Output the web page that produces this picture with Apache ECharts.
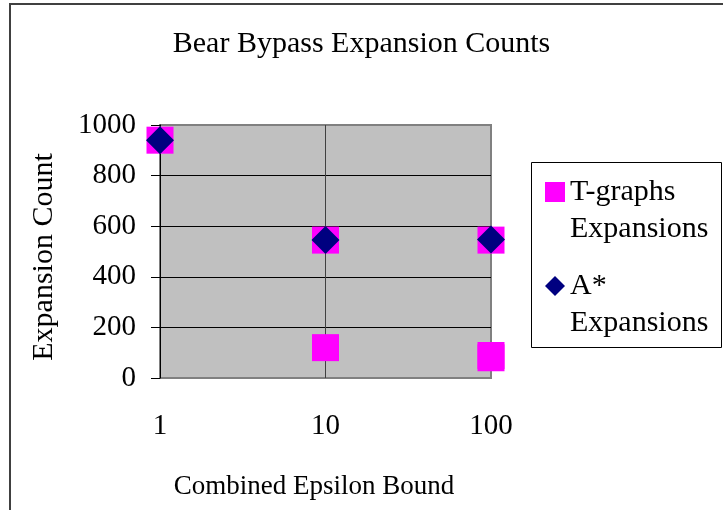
<!DOCTYPE html>
<html><head><meta charset="utf-8">
<script src="https://cdn.jsdelivr.net/npm/echarts@6/dist/echarts.min.js"></script>
<style>html,body{margin:0;padding:0;background:#fff}#c{width:723px;height:510px}</style>
</head><body><div id="c"></div>
<script>
const titleText = 'Bear Bypass Expansion Counts';
const xAxisName = 'Combined Epsilon Bound';
const yAxisName = 'Expansion Count';
const seriesNames = ['T-graphs Expansions', 'A* Expansions'];
const tgraphsEps = [1, 10, 10, 100, 100, 100];
const tgraphsCounts = [940, 545, 120, 545, 89, 80];
const astarEps = [1, 10, 100];
const astarCounts = [940, 545, 547];
const xTickLabels = {1: '1', 10: '10', 100: '100'};
const yTickValues = [0, 200, 400, 600, 800, 1000];

const FONT = 'Liberation Serif, Times New Roman, serif';
const chart = echarts.init(document.getElementById('c'), null, {renderer: 'canvas'});

function legendText(name) { return ' \n' + name.split(' ').join('\n'); }

const option = {
  backgroundColor: '#ffffff',
  animation: false,
  title: {
    text: titleText, left: 'center', top: 29, padding: 0,
    textStyle: {fontFamily: FONT, fontSize: 30, fontWeight: 'normal', color: '#000'}
  },
  grid: {
    left: 160, top: 125, right: 232, bottom: 132,
    show: true, backgroundColor: '#c0c0c0', borderColor: '#808080', borderWidth: 2
  },
  xAxis: {
    type: 'log', logBase: 10, min: 1, max: 100,
    name: xAxisName, nameLocation: 'middle', nameGap: 95,
    nameTextStyle: {fontFamily: FONT, fontSize: 27, color: '#000', padding: [0, 23, 0, 0]},
    axisLine: {show: false},
    axisTick: {show: false},
    axisLabel: {fontFamily: FONT, fontSize: 29, color: '#000', margin: 34,
      formatter: v => xTickLabels[Math.round(v)] ?? String(v)},
    splitLine: {show: true, showMinLine: false, showMaxLine: false, lineStyle: {color: '#404040', width: 1}}
  },
  yAxis: {
    type: 'value', min: yTickValues[0], max: yTickValues[yTickValues.length - 1], interval: yTickValues[1] - yTickValues[0],
    name: yAxisName, nameLocation: 'middle', nameGap: 101, nameRotate: 90,
    nameTextStyle: {fontFamily: FONT, fontSize: 30, color: '#000', padding: [0, 11, 0, 0]},
    axisLine: {show: true, lineStyle: {color: '#000', width: 1}},
    axisTick: {show: true, inside: false, length: 9, lineStyle: {color: '#000'}},
    axisLabel: {fontFamily: FONT, fontSize: 29, color: '#000', margin: 24,
      formatter: v => String(v)},
    splitLine: {show: true, showMinLine: false, showMaxLine: false, lineStyle: {color: '#000', width: 1}}
  },
  legend: [
    {
      data: [{name: seriesNames[0], icon: 'rect'}],
      left: 545, top: 136.5, padding: 0, itemWidth: 20, itemHeight: 20,
      formatter: legendText, selectedMode: false,
      itemStyle: {opacity: 1},
      textStyle: {fontFamily: FONT, fontSize: 30, lineHeight: 37, color: '#000'}
    },
    {
      data: [{name: seriesNames[1], icon: 'diamond'}],
      left: 545, top: 230.5, padding: 0, itemWidth: 20, itemHeight: 20,
      formatter: legendText, selectedMode: false,
      itemStyle: {opacity: 1},
      textStyle: {fontFamily: FONT, fontSize: 30, lineHeight: 37, color: '#000'}
    }
  ],
  graphic: [
    {type: 'rect', z: -10, silent: true, shape: {x: 10, y: 4, width: 800, height: 600},
      style: {fill: 'none', stroke: '#404040', lineWidth: 2}},
    {type: 'rect', z: 10, silent: true, shape: {x: 531.5, y: 162.5, width: 190, height: 185},
      style: {fill: 'none', stroke: '#000', lineWidth: 1}}
  ],
  series: [
    {
      name: seriesNames[0], type: 'scatter', symbol: 'rect', symbolSize: 27,
      itemStyle: {color: '#ff00ff', opacity: 1},
      data: tgraphsEps.map((x, i) => [x, tgraphsCounts[i]]),
      clip: false, z: 2
    },
    {
      name: seriesNames[1], type: 'scatter', symbol: 'diamond', symbolSize: 28,
      itemStyle: {color: '#000080', opacity: 1},
      data: astarEps.map((x, i) => [x, astarCounts[i]]),
      clip: false, z: 3
    }
  ]
};
chart.setOption(option);
</script>
</body></html>
